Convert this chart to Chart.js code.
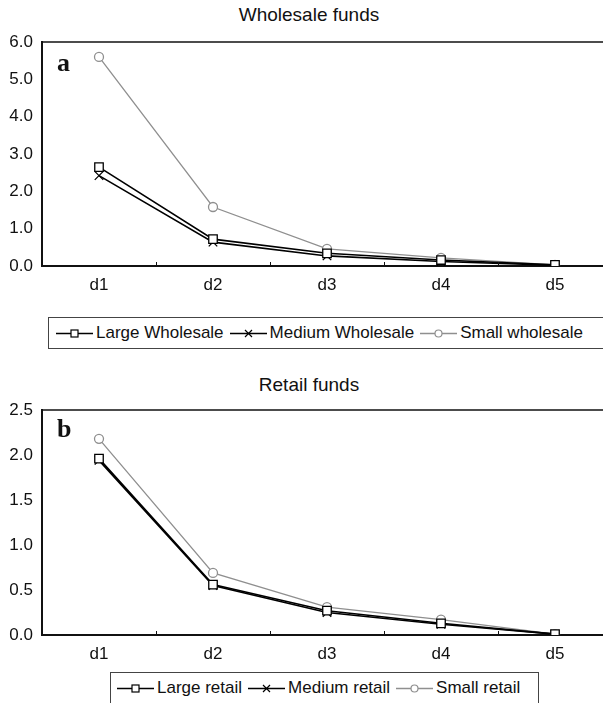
<!DOCTYPE html>
<html lang="en">
<head>
    <meta charset="UTF-8">
    <title>Wholesale and retail funds</title>
    <script src="https://cdn.jsdelivr.net/npm/chart.js"></script>
    <style>
        body {
            margin: 0;
            width: 603px;
            height: 703px;
            overflow: hidden;
            position: relative;
            background: #fff;
            font-family: 'Liberation Sans', Arial, sans-serif;
            color: #111;
        }
        canvas { position: absolute; left: 0; }
        .title {
            position: absolute;
            left: 109px;
            width: 400px;
            text-align: center;
            font-size: 19px;
            line-height: 20px;
        }
        .panel {
            position: absolute;
            left: 57px;
            font-family: 'Liberation Serif', 'Times New Roman', serif;
            font-weight: bold;
            font-size: 26px;
            line-height: 26px;
        }
        .legend {
            position: absolute;
            box-sizing: border-box;
            border: 1.5px solid #444;
            display: flex;
            align-items: center;
            font-size: 17px;
            white-space: nowrap;
        }
        .legend span { display: flex; align-items: center; margin-right: 6px; }
        .legend svg { margin-right: 3px; }
    </style>
</head>
<body>
    <div class="title" style="top: 5px;">Wholesale funds</div>
    <canvas id="wholesale" width="620" height="300" style="top: 0;"></canvas>
    <div class="panel" style="top: 50px;">a</div>
    <div class="legend" id="legend-wholesale" style="left: 48px; top: 317px; width: 570px; height: 32px; padding-left: 7px;"></div>

    <div class="title" style="top: 375px;">Retail funds</div>
    <canvas id="retail" width="620" height="300" style="top: 368px;"></canvas>
    <div class="panel" style="top: 416px;">b</div>
    <div class="legend" id="legend-retail" style="left: 110px; top: 672px; width: 429px; height: 40px; padding-left: 6px; padding-bottom: 8px;"></div>

    <script>
        // categories
        const categories = ['d1', 'd2', 'd3', 'd4', 'd5'];

        // panel a - wholesale funds
        const largeWholesale = [2.65, 0.72, 0.34, 0.16, 0.03];
        const mediumWholesale = [2.42, 0.64, 0.27, 0.12, 0.02];
        const smallWholesale = [5.60, 1.58, 0.46, 0.22, 0.03];

        // panel b - retail funds
        const largeRetail = [1.96, 0.56, 0.27, 0.13, 0.01];
        const mediumRetail = [1.94, 0.55, 0.25, 0.12, 0.01];
        const smallRetail = [2.18, 0.69, 0.31, 0.17, 0.01];

        const wholesaleTicks = [0, 1, 2, 3, 4, 5, 6];
        const retailTicks = [0, 0.5, 1, 1.5, 2, 2.5];

        const grey = '#8f8f8f';

        function series(label, data, style) {
            const base = {
                label: label,
                data: data,
                backgroundColor: '#fff',
                pointBackgroundColor: '#fff',
                pointBorderWidth: 1.3,
                tension: 0
            };
            if (style === 'square') {
                return Object.assign(base, { borderColor: '#000', borderWidth: 1.6, pointStyle: 'rect', pointRadius: 6 });
            }
            if (style === 'cross') {
                return Object.assign(base, { borderColor: '#000', borderWidth: 1.6, pointStyle: 'crossRot', pointRadius: 6 });
            }
            return Object.assign(base, { borderColor: grey, borderWidth: 1.3, pointStyle: 'circle', pointRadius: 4.5 });
        }

        // top border of the plot and the small inward ticks between categories
        const frame = {
            id: 'frame',
            afterDraw(chart) {
                const ctx = chart.ctx;
                const a = chart.chartArea;
                const x = chart.scales.x;
                ctx.save();
                ctx.strokeStyle = '#111';
                ctx.lineWidth = 1.5;
                ctx.beginPath();
                ctx.moveTo(a.left, a.top);
                ctx.lineTo(a.right, a.top);
                ctx.stroke();
                ctx.lineWidth = 1;
                for (let i = 0; i < categories.length - 1; i++) {
                    const px = Math.round((x.getPixelForValue(i) + x.getPixelForValue(i + 1)) / 2) + 0.5;
                    ctx.beginPath();
                    ctx.moveTo(px, a.bottom);
                    ctx.lineTo(px, a.bottom - 4);
                    ctx.stroke();
                }
                ctx.restore();
            }
        };

        function createChart(id, datasets, ticks, xHeight) {
            const tickFont = { family: "'Liberation Sans', Arial, sans-serif", size: 17 };
            return new Chart(document.getElementById(id), {
                type: 'line',
                data: { labels: categories, datasets: datasets },
                options: {
                    responsive: false,
                    animation: false,
                    layout: { padding: { top: 42, right: 8, left: 0, bottom: 0 } },
                    plugins: { legend: { display: false }, tooltip: { enabled: false } },
                    scales: {
                        x: {
                            offset: true,
                            grid: { display: false, drawTicks: false },
                            border: { display: true, color: '#111', width: 2 },
                            ticks: { color: '#111', font: tickFont, padding: 9 },
                            afterFit: s => { s.height = xHeight; }
                        },
                        y: {
                            min: ticks[0],
                            max: ticks[ticks.length - 1],
                            afterBuildTicks: s => { s.ticks = ticks.map(v => ({ value: v })); },
                            grid: { display: false, drawTicks: false },
                            border: { display: true, color: '#111', width: 2 },
                            ticks: { color: '#111', font: tickFont, padding: 9, callback: v => v.toFixed(1) },
                            afterFit: s => { s.width = 42; }
                        }
                    }
                },
                plugins: [frame]
            });
        }

        createChart('wholesale', [
            series('Large Wholesale', largeWholesale, 'square'),
            series('Medium Wholesale', mediumWholesale, 'cross'),
            series('Small wholesale', smallWholesale, 'circle')
        ], wholesaleTicks, 34);

        createChart('retail', [
            series('Large retail', largeRetail, 'square'),
            series('Medium retail', mediumRetail, 'cross'),
            series('Small retail', smallRetail, 'circle')
        ], retailTicks, 33);

        // html legends with line + marker symbols
        const symbols = {
            square: '<rect x="15" y="3" width="7" height="7" fill="#fff" stroke="#000" stroke-width="1.2"/>',
            cross: '<path d="M15 3 L22 10 M22 3 L15 10" stroke="#000" stroke-width="1.2"/>',
            circle: '<circle cx="18.5" cy="6.5" r="3.5" fill="#fff" stroke="' + grey + '" stroke-width="1.2"/>'
        };

        function createLegend(id, labels) {
            const box = document.getElementById(id);
            const styles = ['square', 'cross', 'circle'];
            labels.forEach((label, i) => {
                const color = styles[i] === 'circle' ? grey : '#000';
                const item = document.createElement('span');
                item.innerHTML = '<svg width="37" height="13"><line x1="0" y1="6.5" x2="37" y2="6.5" stroke="' + color +
                    '" stroke-width="1.3"/>' + symbols[styles[i]] + '</svg>' + label;
                box.appendChild(item);
            });
        }

        createLegend('legend-wholesale', ['Large Wholesale', 'Medium Wholesale', 'Small wholesale']);
        createLegend('legend-retail', ['Large retail', 'Medium retail', 'Small retail']);
    </script>
</body>
</html>
